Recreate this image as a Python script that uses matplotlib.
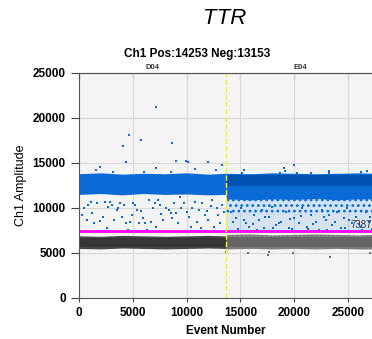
import matplotlib
matplotlib.use("Agg")
import matplotlib.pyplot as plt

plt.rcParams['font.family'] = ['Liberation Sans', 'DejaVu Sans']
plt.rcParams['hatch.linewidth'] = 1.2

# wells on the plate, event range of each
wells = ["D04", "E04"]
well_start = [0, 13670]
well_end = [13670, 27400]
threshold = 7387

# dense droplet clusters (event knots, amplitude low/high)
pos_x = [[0, 2000, 4000, 6000, 8000, 10000, 12000, 13670],
         [13670, 16000, 18000, 20000, 22000, 24000, 26000, 27400]]
pos_low = [[11500, 11600, 11450, 11600, 11500, 11550, 11450, 11500],
           [11000, 10900, 11000, 10950, 11050, 10900, 11000, 11000]]
pos_high = [[13800, 13900, 13750, 13850, 13800, 13900, 13750, 13850],
            [13850, 13800, 13900, 13850, 13800, 13850, 13900, 13850]]
pos_core_low = [[11900] * 8, [12400] * 8]
pos_core_high = [[13400] * 8, [13650] * 8]
rain_low = [9300, 9300]
rain_floor = [7500, 7500]

neg_low = [[5500, 5450, 5550, 5500, 5450, 5500, 5550, 5500],
           [5400, 5450, 5400, 5450, 5400, 5450, 5400, 5400]]
neg_high = [[6900, 6850, 6950, 6900, 6850, 6900, 6950, 6900],
            [7000, 7050, 6950, 7000, 7050, 7000, 6950, 7000]]
neg_core_low = [[5700] * 8, [5650] * 8]
neg_core_high = [[6650] * 8, [6750] * 8]

# single droplets that stand out of the clusters
high_x = [7130, 4620, 4060, 5740, 8650, 4400, 9020, 9950, 10140, 12000, 1950, 1580,
          7130, 10730, 12740, 13240, 3190, 8530, 6050, 19940, 15290, 15160, 19000,
          19160, 18630, 21550, 23260, 23260, 26170, 26760, 20250, 13240]
high_y = [21190, 18110, 16890, 17560, 17260, 15080, 15220, 15220, 15080, 15080, 14590, 14220,
          14400, 14330, 14190, 14780, 14000, 14000, 14040, 14810, 14190, 13850, 14480,
          14110, 13850, 13850, 14150, 13930, 14040, 14150, 13850, 14810]

rain_d_x = [310, 500, 710, 870, 1090, 1240, 1400, 1640, 1950, 2260, 2420, 2570, 2730, 2880,
            3040, 3290, 3500, 3660, 3810, 3970, 4220, 4340, 4530, 4750, 4900, 5060, 5220,
            5370, 5530, 5780, 5930, 6090, 6330, 6460, 6710, 6870, 7020, 7180, 7360, 7520,
            7640, 7830, 8050, 8370, 8520, 8680, 8830, 8990, 9210, 9360, 9490, 9740, 9990,
            10210, 10370, 10520, 10740, 10920, 11140, 11300, 11450, 11670, 11860, 11980,
            12230, 12380, 12540, 12780, 12910, 13100, 13310, 13470]
rain_d_y = [9220, 9960, 8670, 10330, 10700, 9480, 8300, 10520, 8590, 8960, 10700, 7740, 10150,
            10700, 10330, 8670, 9780, 9960, 10590, 9040, 10330, 8370, 7560, 8480, 9220, 10520,
            10330, 9780, 8300, 9700, 8850, 8370, 7560, 10890, 8480, 9960, 10520, 7930, 10890,
            10330, 9330, 8670, 9960, 9780, 9480, 8850, 10520, 9400, 8370, 11260, 9960, 10520,
            9590, 9040, 7930, 9960, 10700, 8480, 9780, 7740, 10520, 9220, 9700, 8670, 10220,
            10890, 7930, 9960, 9220, 8300, 10330, 9590]

rain_e_x = [14077, 14542, 15007, 15472, 15783, 16248, 16713, 17023, 17178, 17643, 17953,
            18263, 18728, 19193, 19503, 19968, 20433, 20743, 21209, 21519, 21984, 22294,
            22604, 22914, 23224, 23534, 23999, 24309, 24619, 24929, 25395, 25705, 26170,
            26635, 26945, 14800, 16500, 18000, 19800, 21300, 23000, 24700, 26300, 27200,
            14300, 15300, 16200, 17300, 18600, 19600, 20600, 21700, 22800, 23800, 25100,
            26000, 27000]
rain_e_y = [9592, 8851, 9962, 8296, 7925, 9222, 8666, 9777, 7740, 9036, 10148, 8111, 8481,
            9592, 7740, 8851, 8296, 9962, 7925, 9222, 8481, 7555, 9777, 8666, 9222, 8111, 9592,
            7740, 8851, 9962, 8296, 9036, 7851, 9592, 8481, 7700, 7600, 7800, 7650, 7700, 7550,
            7800, 7600, 7700, 8400, 8700, 8200, 8950, 8350, 8750, 9100, 8200, 8950, 8400,
            8650, 8250, 9000]

low_x = [15690, 17520, 17610, 19880, 23350, 27070, 13650]
low_y = [4960, 4780, 5150, 5030, 4590, 5030, 5150]

blue = "#0a6ad6"
blue_dark = "#0052b0"
neg_cols = ["#474747", "#7a7a7a"]
neg_core_cols = ["#363636", "#666666"]

fig = plt.figure(figsize=(3.72, 3.39), dpi=100)
ax = fig.add_axes([0.2124, 0.121, 0.79, 0.664])
ax.set_facecolor("#f4f4f4")

for i in range(len(wells)):
    x0, x1 = well_start[i], well_end[i]
    if i == 1:
        # dense rain in E04, speckled
        ax.fill_between(pos_x[i], [rain_low[i]] * 8, pos_low[i], facecolor="#d3e3f6",
                        edgecolor=blue, hatch="...", lw=0)
        ax.fill_between([x0, x1], [rain_floor[i]] * 2, [rain_low[i]] * 2, color=blue,
                        alpha=0.12, lw=0)
    ax.fill_between(pos_x[i], pos_low[i], pos_high[i], color=blue, lw=0)
    ax.fill_between(pos_x[i], pos_core_low[i], pos_core_high[i],
                    color=blue if i == 0 else blue_dark, lw=0)
    ax.fill_between(pos_x[i], neg_low[i], neg_high[i], facecolor=neg_cols[i],
                    edgecolor="#9a9a9a" if i == 1 else neg_cols[i],
                    hatch="...." if i == 1 else None, lw=0)
    ax.fill_between(pos_x[i], neg_core_low[i], neg_core_high[i], color=neg_core_cols[i], lw=0)

ax.scatter(high_x, high_y, s=3, marker='s', color=blue, lw=0)
ax.scatter(rain_d_x, rain_d_y, s=3, marker='s', color=blue, lw=0)
ax.scatter(rain_e_x, rain_e_y, s=3, marker='s', color=blue, lw=0)
ax.scatter(low_x, low_y, s=3, marker='s', color="#6f6f6f", lw=0)

ax.axhline(threshold, color="#ff00ff", lw=2)
ax.axvline(well_start[1], color="#eeee55", ls="--", lw=1)
ax.text(25200, threshold + 150, str(threshold), fontsize=7, color="#333333",
        ha="left", va="bottom")

ax.set_xlim(0, 27300)
ax.set_ylim(0, 25000)
ax.set_xticks(range(0, 27300, 5000))
ax.set_yticks(range(0, 25001, 5000))
ax.grid(True, color="#d8d8d8", lw=0.8)
ax.set_axisbelow(True)
for lab in ax.get_xticklabels() + ax.get_yticklabels():
    lab.set_fontweight("bold")
ax.tick_params(axis="y", direction="out", length=6, labelsize=8.5, color="#444444")
ax.tick_params(axis="x", direction="out", length=3, labelsize=8.5, color="#444444")
for s in ["left", "bottom", "top"]:
    ax.spines[s].set_color("#555555")
ax.spines["right"].set_visible(False)

top = ax.secondary_xaxis("top")
top.set_xticks(range(0, 27300, 5000))
top.set_xticklabels([])
top.tick_params(direction="in", length=4, color="#444444")
top.spines["top"].set_color("#555555")

for i in range(len(wells)):
    ax.text((well_start[i] + well_end[i]) / 2, 25250, wells[i], fontsize=5.5,
            fontweight="bold", ha="center", va="bottom", color="#333333")

ax.set_xlabel("Event Number", fontsize=8.5, fontweight="bold", labelpad=4)
ax.set_ylabel("Ch1 Amplitude", fontsize=9, labelpad=4)

fig.text(0.603, 0.946, "TTR", fontsize=16, style="italic", ha="center", va="center")
fig.text(0.531, 0.841, "Ch1 Pos:14253 Neg:13153", fontsize=8.5, fontweight="bold",
         ha="center", va="center")

fig.savefig("out.png", dpi=100)
